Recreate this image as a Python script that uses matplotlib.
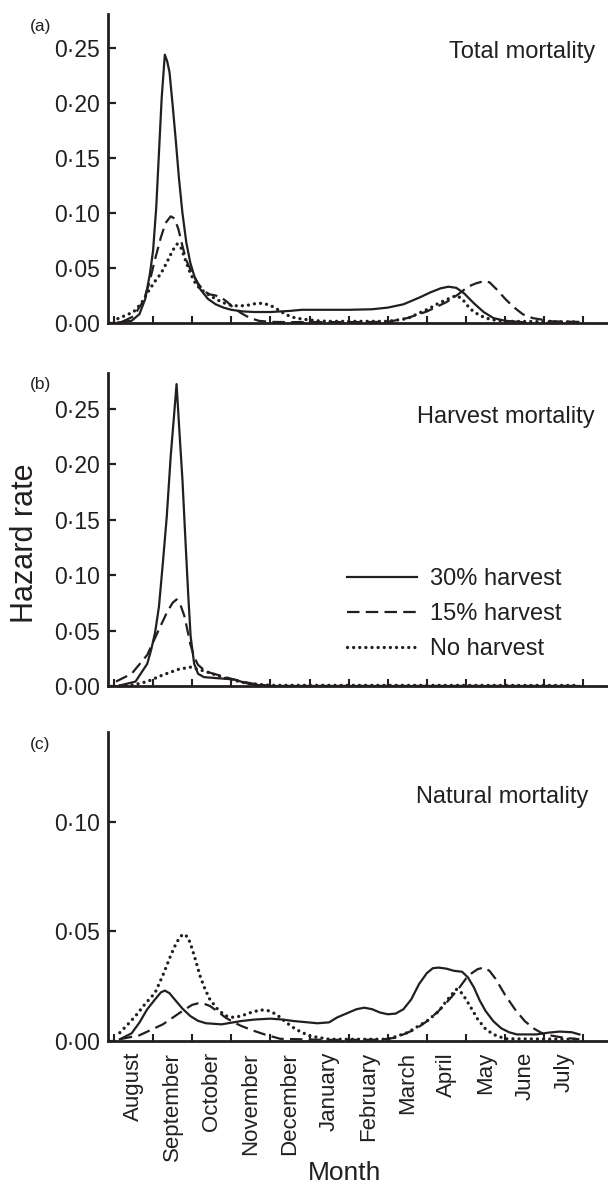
import matplotlib
matplotlib.use("Agg")
import matplotlib.pyplot as plt

plt.rcParams['font.family'] = ['Liberation Sans', 'DejaVu Sans']
plt.rcParams['lines.scale_dashes'] = False

INK = '#231f20'

months = ['August', 'September', 'October', 'November', 'December', 'January',
          'February', 'March', 'April', 'May', 'June', 'July']
series_labels = ['30% harvest', '15% harvest', 'No harvest']
panel_titles = ['Total mortality', 'Harvest mortality', 'Natural mortality']
panel_tags = ['(a)', '(b)', '(c)']

# x values are months since 1 August
# ---- panel (a): total mortality
a30_x = [0.1, 0.45, 0.65, 0.8, 0.92, 1.0, 1.08, 1.15, 1.22, 1.3, 1.36, 1.42, 1.5, 1.58, 1.66,
         1.75, 1.85, 1.95, 2.05, 2.2, 2.4, 2.6, 2.8, 3.0, 3.3, 3.6, 4.0, 4.5, 4.8, 5.5, 6.0,
         6.6, 7.0, 7.4, 7.8, 8.1, 8.35, 8.55, 8.75, 8.95, 9.2, 9.45, 9.7, 10.0, 10.5]
a30_y = [0.0005, 0.002, 0.008, 0.022, 0.045, 0.066, 0.105, 0.155, 0.205, 0.244, 0.238, 0.228,
         0.198, 0.166, 0.132, 0.100, 0.073, 0.055, 0.043, 0.031, 0.022, 0.017, 0.014, 0.012,
         0.0105, 0.0100, 0.0100, 0.011, 0.012, 0.012, 0.012, 0.0125, 0.014, 0.017, 0.023,
         0.028, 0.0315, 0.033, 0.032, 0.027, 0.018, 0.010, 0.0045, 0.002, 0.0006]
a15_x = [0.2, 0.5, 0.75, 0.9, 1.05, 1.2, 1.32, 1.45, 1.55, 1.65, 1.75, 1.85, 2.0, 2.15, 2.3,
         2.45, 2.6, 2.75, 2.9, 3.05, 3.25, 3.45, 3.7, 4.0, 4.5, 6.0, 7.0, 7.5, 8.0, 8.5, 8.8,
         9.05, 9.25, 9.45, 9.6, 9.8, 10.0, 10.2, 10.45, 10.7, 11.2, 11.9]
a15_y = [0.001, 0.006, 0.020, 0.036, 0.058, 0.078, 0.091, 0.097, 0.095, 0.085, 0.070, 0.057,
         0.045, 0.036, 0.029, 0.026, 0.025, 0.023, 0.019, 0.014, 0.009, 0.005, 0.002, 0.001,
         0.0008, 0.0008, 0.001, 0.0045, 0.0105, 0.019, 0.026, 0.033, 0.036, 0.038, 0.037,
         0.030, 0.022, 0.015, 0.008, 0.0045, 0.0015, 0.001]
a0_x = [0.1, 0.3, 0.5, 0.7, 0.9, 1.05, 1.2, 1.35, 1.5, 1.62, 1.72, 1.82, 1.92, 2.05, 2.2,
        2.45, 2.75, 3.0, 3.2, 3.4, 3.6, 3.8, 4.0, 4.2, 4.4, 4.6, 4.8, 5.2, 5.5, 7.0, 7.5, 7.8,
        8.05, 8.3, 8.55, 8.75, 8.9, 9.1, 9.3, 9.5, 9.75, 10.0, 11.9]
a0_y = [0.004, 0.007, 0.010, 0.018, 0.030, 0.038, 0.045, 0.055, 0.066, 0.072, 0.068, 0.058,
        0.048, 0.038, 0.031, 0.025, 0.019, 0.016, 0.0155, 0.016, 0.0175, 0.018, 0.016, 0.012,
        0.0075, 0.005, 0.0036, 0.002, 0.0015, 0.0015, 0.004, 0.009, 0.013, 0.018, 0.022,
        0.025, 0.022, 0.013, 0.008, 0.0045, 0.0025, 0.0015, 0.001]

# ---- panel (b): harvest mortality
b30_x = [0.1, 0.55, 0.85, 0.95, 1.05, 1.15, 1.25, 1.35, 1.45, 1.52, 1.6, 1.67, 1.75, 1.83,
         1.9, 1.96, 2.05, 2.15, 2.3, 2.65, 3.05, 3.4, 3.7, 4.0, 11.9]
b30_y = [0.0, 0.004, 0.020, 0.0325, 0.048, 0.0716, 0.111, 0.153, 0.207, 0.237, 0.272, 0.231,
         0.186, 0.129, 0.081, 0.0445, 0.020, 0.011, 0.008, 0.007, 0.006, 0.0024, 0.0008, 0.0, 0.0]
b15_x = [0.05, 0.45, 0.85, 1.15, 1.35, 1.5, 1.6, 1.7, 1.8, 1.88, 1.95, 2.05, 2.15, 2.35, 2.65,
         3.05, 3.5, 4.0, 11.9]
b15_y = [0.004, 0.011, 0.028, 0.051, 0.066, 0.075, 0.078, 0.073, 0.063, 0.050, 0.038, 0.026,
         0.019, 0.013, 0.010, 0.006, 0.0024, 0.0, 0.0]
b0_x = [0.15, 0.5, 0.85, 1.25, 1.65, 1.95, 2.35, 2.85, 3.4, 4.0, 11.9]
b0_y = [0.0, 0.001, 0.004, 0.010, 0.015, 0.017, 0.013, 0.007, 0.0024, 0.0006, 0.0005]

# ---- panel (c): natural mortality
c30_x = [0.15, 0.45, 0.65, 0.85, 1.05, 1.2, 1.3, 1.42, 1.55, 1.75, 1.95, 2.15, 2.35, 2.75,
         3.25, 3.6, 4.0, 4.3, 4.6, 5.2, 5.5, 5.7, 6.0, 6.2, 6.4, 6.6, 6.8, 7.0, 7.2, 7.4,
         7.6, 7.8, 8.0, 8.15, 8.3, 8.5, 8.7, 8.9, 9.05, 9.2, 9.35, 9.5, 9.7, 9.9, 10.1,
         10.3, 10.8, 11.1, 11.4, 11.7, 11.9]
c30_y = [0.0008, 0.0035, 0.0084, 0.0145, 0.019, 0.0222, 0.023, 0.0218, 0.019, 0.0148,
         0.0114, 0.0092, 0.0081, 0.0076, 0.0091, 0.0098, 0.0102, 0.0098, 0.0091, 0.0081,
         0.0085, 0.0107, 0.013, 0.0145, 0.0152, 0.0145, 0.013, 0.0122, 0.0125, 0.0145,
         0.019, 0.026, 0.031, 0.0332, 0.0335, 0.033, 0.032, 0.0316, 0.029, 0.0245, 0.0185,
         0.0137, 0.009, 0.0058, 0.004, 0.003, 0.003, 0.0038, 0.0043, 0.004, 0.003]
c15_x = [0.15, 0.65, 1.25, 1.75, 2.0, 2.15, 2.3, 2.45, 2.65, 2.85, 3.05, 3.25, 3.55, 3.85,
         4.25, 5.5, 6.8, 7.2, 7.7, 8.0, 8.3, 8.55, 8.8, 9.0, 9.15, 9.3, 9.45, 9.6, 9.75,
         10.0, 10.25, 10.5, 10.75, 11.0, 11.5, 11.9]
c15_y = [0.0008, 0.0026, 0.0076, 0.0137, 0.0165, 0.0172, 0.017, 0.016, 0.0135, 0.0107,
         0.0086, 0.0069, 0.0048, 0.003, 0.001, 0.0005, 0.0006, 0.0015, 0.0053, 0.009, 0.0137,
         0.0185, 0.0236, 0.0285, 0.031, 0.0328, 0.0335, 0.032, 0.0285, 0.021, 0.0145, 0.0091,
         0.0055, 0.003, 0.0015, 0.0008]
c0_x = [0.15, 0.35, 0.55, 0.8, 1.05, 1.25, 1.45, 1.6, 1.72, 1.8, 1.9, 2.0, 2.1, 2.2, 2.32,
        2.45, 2.65, 2.85, 3.05, 3.25, 3.5, 3.75, 3.95, 4.15, 4.4, 4.65, 5.0, 5.5, 7.0, 7.5,
        8.0, 8.3, 8.5, 8.65, 8.75, 8.85, 9.0, 9.15, 9.3, 9.5, 9.7, 10.0, 11.9]
c0_y = [0.0038, 0.0075, 0.0114, 0.017, 0.022, 0.030, 0.039, 0.045, 0.048, 0.0488, 0.047,
        0.042, 0.036, 0.0297, 0.024, 0.019, 0.0145, 0.0115, 0.0108, 0.0114, 0.013, 0.0142,
        0.0138, 0.0122, 0.0085, 0.0053, 0.0023, 0.0008, 0.0008, 0.0038, 0.0091, 0.0135,
        0.0183, 0.0215, 0.0236, 0.0228, 0.019, 0.0145, 0.0099, 0.0055, 0.003, 0.001, 0.0008]

panels = [
    [(a30_x, a30_y), (a15_x, a15_y), (a0_x, a0_y)],
    [(b30_x, b30_y), (b15_x, b15_y), (b0_x, b0_y)],
    [(c30_x, c30_y), (c15_x, c15_y), (c0_x, c0_y)],
]
yticks = [[0, 0.05, 0.10, 0.15, 0.20, 0.25], [0, 0.05, 0.10, 0.15, 0.20, 0.25], [0, 0.05, 0.10]]
ytops = [0.281, 0.282, 0.141]

W, H = 608, 1186
fig = plt.figure(figsize=(W / 100, H / 100), dpi=100)

boxes = [(14, 323), (373, 686), (732, 1041)]  # top, bottom in px
left_px, right_px = 108, 608

styles = [
    dict(linestyle='-', linewidth=1.6, solid_joinstyle='round'),
    dict(linestyle=(0, (9, 4.5)), linewidth=1.6),
    dict(linestyle=(0, (0.01, 4.4)), linewidth=2.4, dash_capstyle='round'),
]

def fmt(v):
    return ('%.2f' % v).replace('.', '\u00b7')

axes = []
for i, (top, bot) in enumerate(boxes):
    ax = fig.add_axes([left_px / W, 1 - bot / H, (right_px - left_px) / W, (bot - top) / H])
    axes.append(ax)
    for (xs, ys), st, lab in zip(panels[i], styles, series_labels):
        ax.plot(xs, ys, color=INK, label=lab, clip_on=False, **st)
    ax.set_xlim(-0.153, 12.63)
    ax.set_ylim(0, ytops[i])
    for s in ['top', 'right']:
        ax.spines[s].set_visible(False)
    for s in ['left', 'bottom']:
        ax.spines[s].set_linewidth(2.0)
        ax.spines[s].set_color(INK)
    ax.set_yticks(yticks[i])
    ax.set_yticklabels([fmt(v) for v in yticks[i]])
    ax.tick_params(axis='y', direction='in', length=6, width=1.6, colors=INK,
                   labelsize=16.5, pad=6)
    ax.set_xticks(range(13))
    ax.tick_params(axis='x', which='major', direction='in', length=5, width=1.5, colors=INK,
                   labelbottom=False)
    if i == 2:
        ax.set_xticks([m + 0.5 for m in range(12)], minor=True)
        ax.set_xticklabels(months, minor=True, rotation=90, fontsize=16)
        ax.tick_params(axis='x', which='minor', length=0, pad=8, labelcolor=INK)
    fig.text(30 / W, 1 - (top + 12) / H, panel_tags[i], fontsize=12.5, color=INK,
             ha='left', va='center')

fig.text(595 / W, 1 - 52 / H, panel_titles[0], fontsize=17, color=INK, ha='right', va='center')
fig.text(595 / W, 1 - 417 / H, panel_titles[1], fontsize=17, color=INK, ha='right', va='center')
fig.text(588 / W, 1 - 797 / H, panel_titles[2], fontsize=17, color=INK, ha='right', va='center')

fig.text(25 / W, 1 - 543 / H, 'Hazard rate', fontsize=22, color=INK, rotation=90,
         ha='center', va='center')
fig.text(345 / W, 1 - 1173 / H, 'Month', fontsize=19, color=INK, ha='center', va='center')

leg = axes[1].legend(loc='upper left', bbox_to_anchor=(347 / W, 1 - 568 / H),
                     bbox_transform=fig.transFigure, frameon=False, fontsize=17,
                     handlelength=2.95, handletextpad=0.55, labelspacing=0.55,
                     borderpad=0, borderaxespad=0)
for t in leg.get_texts():
    t.set_color(INK)

fig.savefig('out.png', dpi=100)
